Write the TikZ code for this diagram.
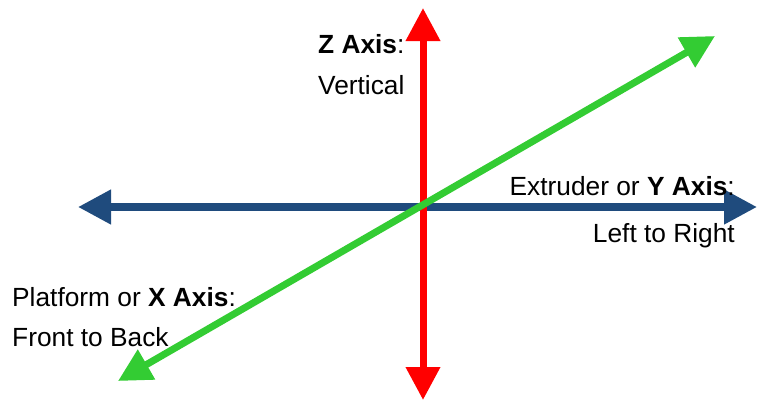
\documentclass[tikz,border=0pt]{standalone}
\usepackage{fontspec}
\setmainfont{Liberation Sans}
\usetikzlibrary{arrows.meta}
\definecolor{axisblue}{RGB}{31,75,125}
\definecolor{axisgreen}{RGB}{51,204,51}
\definecolor{axisred}{RGB}{255,0,0}
\tikzset{
  axisline/.style={line width=7.5pt, {Triangle[length=33pt,width=33pt]}-{Triangle[length=33pt,width=33pt]}},
  lbl/.style={inner sep=0pt, font=\fontsize{26.3}{30}\selectfont, anchor=base west},
  lblr/.style={inner sep=0pt, font=\fontsize{26.3}{30}\selectfont, anchor=base east}
}
\begin{document}
\begin{tikzpicture}[x=1pt,y=-1pt]
\useasboundingbox (0,0) rectangle (758,402);
\coordinate (yl) at (78,207);
\coordinate (yr) at (757,207);
\coordinate (zt) at (423,8);
\coordinate (zb) at (423,400);
\coordinate (xf) at (118,381);
\coordinate (xb) at (715,36);
\draw[axisline, draw=axisblue, fill=axisblue] (yl) -- (yr);
\draw[axisline, draw=axisred, fill=axisred, line width=7pt] (zb) -- (zt);
\draw[axisline, draw=axisgreen, fill=axisgreen, line width=7pt] (xf) -- (xb);
\node[lbl] (zl1) at (318,53) {\textbf{Z Axis}:};
\node[lbl] (zl2) at (318,94) {Vertical};
\node[lblr] (yl1) at (735,195) {Extruder or \textbf{Y Axis}:};
\node[lblr] (yl2) at (735,242) {Left to Right};
\node[lbl] (xl1) at (12,306) {Platform or \textbf{X Axis}:};
\node[lbl] (xl2) at (12,346) {Front to Back};
\end{tikzpicture}
\end{document}
